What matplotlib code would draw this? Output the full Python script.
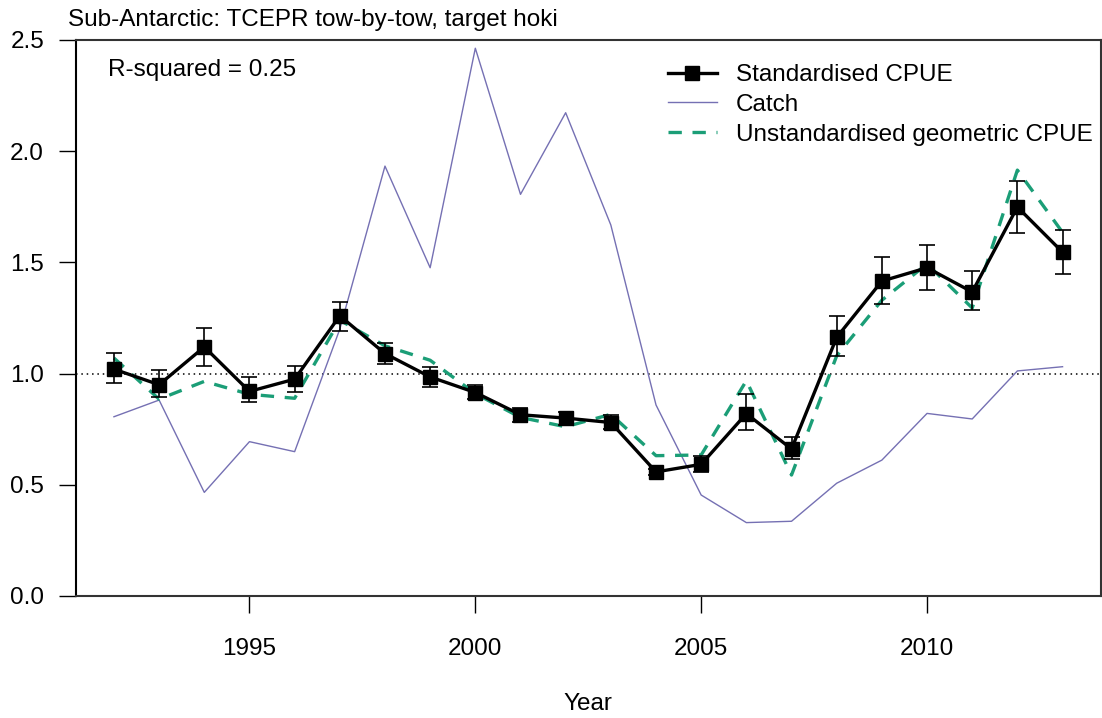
import matplotlib.pyplot as plt
import numpy as np

plt.rcParams['font.family'] = ['Liberation Sans', 'DejaVu Sans']

# Datos
years = np.arange(1992, 2014)
std_cpue = [1.02, 0.95, 1.12, 0.92, 0.975, 1.26, 1.09, 0.985, 0.915, 0.815,
            0.80, 0.78, 0.558, 0.592, 0.82, 0.661, 1.163, 1.416, 1.476, 1.367,
            1.749, 1.546]
std_lower = [0.959, 0.896, 1.036, 0.874, 0.919, 1.193, 1.043, 0.938, 0.886, 0.784,
             0.769, 0.75, 0.545, 0.558, 0.748, 0.616, 1.08, 1.312, 1.376, 1.285,
             1.634, 1.448]
std_upper = [1.091, 1.016, 1.205, 0.983, 1.036, 1.323, 1.136, 1.03, 0.95, 0.847,
             0.826, 0.814, 0.571, 0.631, 0.907, 0.715, 1.26, 1.526, 1.578, 1.461,
             1.867, 1.644]
unstd_cpue = [1.07, 0.885, 0.965, 0.907, 0.889, 1.24, 1.125, 1.06, 0.91, 0.803,
              0.761, 0.817, 0.631, 0.634, 0.968, 0.544, 1.08, 1.33, 1.493, 1.295,
              1.915, 1.635]
catch = [0.806, 0.881, 0.466, 0.694, 0.649, 1.2, 1.933, 1.476, 2.463, 1.806,
         2.173, 1.668, 0.859, 0.454, 0.33, 0.336, 0.507, 0.611, 0.821, 0.796,
         1.012, 1.031]

title = "Sub-Antarctic: TCEPR tow-by-tow, target hoki"
r_squared = "R-squared = 0.25"
xticks = [1995, 2000, 2005, 2010]
yticks = [0.0, 0.5, 1.0, 1.5, 2.0, 2.5]

fs = 17.5

fig = plt.figure(figsize=(11.02, 7.18), dpi=100)
W, H = 1102, 718
ax = fig.add_axes([76 / W, (H - 596) / H, (1100.5 - 76) / W, (596 - 40) / H])

span = years[-1] - years[0]
ax.set_xlim(years[0] - 0.04 * span, years[-1] + 0.04 * span)
ax.set_ylim(0, 2.5)

ax.axhline(1.0, color='black', linestyle=(0, (1, 2.5)), linewidth=1.1, zorder=1)

# Catch
ax.plot(years, catch, color='#7570b3', linewidth=1.0, label='Catch', zorder=2)

# CPUE no estandarizada
ax.plot(years, unstd_cpue, color='#1b9e77', linewidth=2.4, dashes=(4, 3.2),
        label='Unstandardised geometric CPUE', zorder=3)

# CPUE estandarizada con barras de error
yerr = [np.array(std_cpue) - np.array(std_lower), np.array(std_upper) - np.array(std_cpue)]
ax.errorbar(years, std_cpue, yerr=yerr, fmt='none', ecolor='black', elinewidth=1.2,
            capsize=6, capthick=1.2, zorder=4)
ax.plot(years, std_cpue, color='black', linewidth=2.4, marker='s', markersize=10,
        label='Standardised CPUE', zorder=5)

# Ejes
ax.set_xticks(xticks)
ax.set_xticklabels([str(t) for t in xticks])
ax.set_yticks(yticks)
ax.set_yticklabels([f"{t:.1f}" for t in yticks])
ax.tick_params(axis='both', labelsize=fs, length=12, width=1.0)
ax.tick_params(axis='x', pad=18)
ax.tick_params(axis='y', pad=11)
for side in ['top', 'right', 'bottom']:
    ax.spines[side].set_color('#333333')
    ax.spines[side].set_linewidth(1.5)
ax.spines['left'].set_linewidth(1.5)

ax.set_xlabel('Year', fontsize=fs, labelpad=24)

fig.text(68 / W, 1 - 20 / H, title, fontsize=fs, ha='left', va='center')
ax.text(108 / W, 1 - 70 / H, r_squared, fontsize=fs, ha='left', va='center',
        transform=fig.transFigure)

# Leyenda
handles, labels = ax.get_legend_handles_labels()
order = [2, 0, 1]
ax.legend([handles[i] for i in order], [labels[i] for i in order],
          loc='upper left', bbox_to_anchor=(668 / W, 1 - 64 / H),
          bbox_transform=fig.transFigure, frameon=False, fontsize=fs,
          handlelength=2.0, handletextpad=0.8, labelspacing=0.32,
          borderaxespad=0, borderpad=0)

fig.savefig('out.png', dpi=100)
